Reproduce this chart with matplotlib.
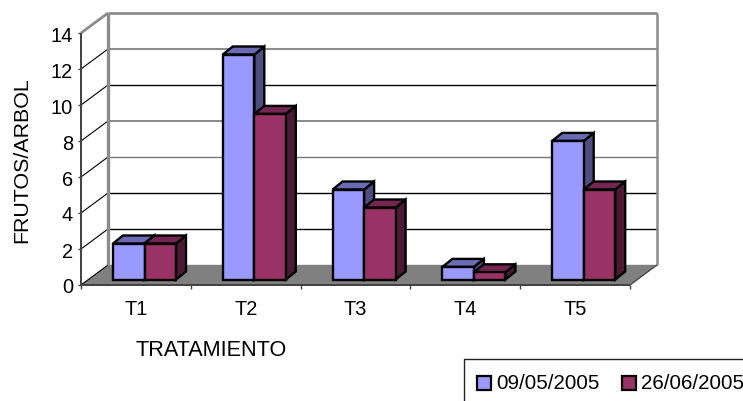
import matplotlib
matplotlib.use("Agg")
import matplotlib.pyplot as plt
from matplotlib.patches import Polygon, Rectangle
from matplotlib.lines import Line2D

categories = ["T1", "T2", "T3", "T4", "T5"]
series_names = ["09/05/2005", "26/06/2005"]
values_first = [2.0, 12.5, 5.0, 0.7, 7.7]
values_second = [2.0, 9.2, 4.0, 0.4, 5.0]
y_ticks = [0, 2, 4, 6, 8, 10, 12, 14]

W, H = 743, 402
plt.rcParams["font.family"] = ["Liberation Sans", "DejaVu Sans"]
fig = plt.figure(figsize=(W / 100, H / 100), dpi=100)

# front plane of the 3D box, in pixels
L, R, B, T = 81, 630, 286, 34
ax = fig.add_axes([L / W, 1 - B / H, (R - L) / W, (B - T) / H])
ax.set_xlim(0, len(categories))
ax.set_ylim(0, 14)
ax.axis("off")

ux = (R - L) / len(categories)   # pixels per category
uy = (B - T) / 14                # pixels per unit
wall_dx, wall_dy = 27 / ux, 20 / uy
bar_dx, bar_dy = 10 / ux, 8 / uy
base = 5.5 / uy
bar_w = 31.5 / ux
first_left = 32 / ux

GREY = "#8c8c8c"
AXIS = "#404040"


def line(xs, ys, color, lw, z=1):
    ax.add_line(Line2D(xs, ys, color=color, lw=lw, clip_on=False, zorder=z,
                       solid_capstyle="butt"))


# floor
ax.add_patch(Polygon([(0, 0), (5, 0), (5 + wall_dx, wall_dy), (wall_dx, wall_dy)],
                     closed=True, fc="#808080", ec="none", clip_on=False, zorder=1))

# back wall grid and left wall diagonals
grid_styles = {14: (GREY, 2.0), 12: (GREY, 1.5), 10: ("black", 1.0), 8: ("#777777", 1.2),
               6: ("#777777", 1.0), 4: ("black", 1.0), 2: ("black", 1.0), 0: ("#808080", 1.0)}
for v in y_ticks:
    yb = v + wall_dy
    color, lw = grid_styles[v]
    line([wall_dx, 5 + wall_dx], [yb, yb], color, lw, 2)
    line([0, wall_dx], [v, yb], GREY if v == 14 else "black", 2.0 if v == 14 else 0.8, 2)
    line([-3 / ux, 0], [v, v], AXIS, 1.0, 3)
    ax.text(-8 / ux, v, str(v), ha="right", va="center_baseline", fontsize=14.4, color="black")

line([wall_dx, wall_dx], [wall_dy, 14 + wall_dy], GREY, 2.4, 3)
line([5 + wall_dx, 5 + wall_dx], [wall_dy, 14 + wall_dy], GREY, 1.8, 3)
line([5, 5 + wall_dx], [0, wall_dy], AXIS, 0.9, 3)

# front axes
line([0, 0], [0, 14], AXIS, 1.4, 3)
line([0, 5], [0, 0], AXIS, 1.4, 3)
for i in range(len(categories) + 1):
    line([i, i], [0, -4 / uy], AXIS, 1.0, 3)


def bar3d(x, value, front, top, side, z):
    t = base + value
    kw = dict(ec="black", lw=1.7, joinstyle="miter", clip_on=False, zorder=z)
    ax.add_patch(Polygon([(x + bar_w, base), (x + bar_w + bar_dx, base + bar_dy),
                          (x + bar_w + bar_dx, t + bar_dy), (x + bar_w, t)],
                         closed=True, fc=side, **kw))
    ax.add_patch(Polygon([(x, t), (x + bar_w, t), (x + bar_w + bar_dx, t + bar_dy),
                          (x + bar_dx, t + bar_dy)], closed=True, fc=top, **kw))
    ax.add_patch(Rectangle((x, base), bar_w, value, fc=front, **kw))


BLUE = ("#9999FF", "#6B6BB3", "#4D4D80")
RED = ("#993366", "#732650", "#4D1A33")
for i, (a, b) in enumerate(zip(values_first, values_second)):
    x = i + first_left
    bar3d(x, a, *BLUE, 5)
    bar3d(x + bar_w, b, *RED, 6)
    ax.text(i + 0.5, -24 / uy, categories[i], ha="center", va="center",
            fontsize=14.4, color="black", clip_on=False)

fig.text(211 / W, 1 - 351 / H, "TRATAMIENTO", ha="center", va="center", fontsize=15.6)
fig.text(22 / W, 1 - 160 / H, "FRUTOS/ARBOL", ha="center", va="center",
         rotation=90, fontsize=15.4)


def fx(px):
    return px / W


def fy(py):
    return 1 - py / H


# legend box, running off the right and bottom edges of the figure
fig.add_artist(Line2D([fx(464), fx(464), fx(743)], [fy(402), fy(360), fy(360)],
                      color="#222222", lw=1.0))
for px, name, color in [(477, series_names[0], BLUE[0]), (622, series_names[1], RED[0])]:
    fig.add_artist(Rectangle((fx(px), fy(391)), 14 / W, 14 / H, fc=color, ec="black", lw=1.6,
                             transform=fig.transFigure))
    fig.text(fx(px + 19), fy(384), name, ha="left", va="center", fontsize=14.8)

fig.savefig("out.png", dpi=100)
